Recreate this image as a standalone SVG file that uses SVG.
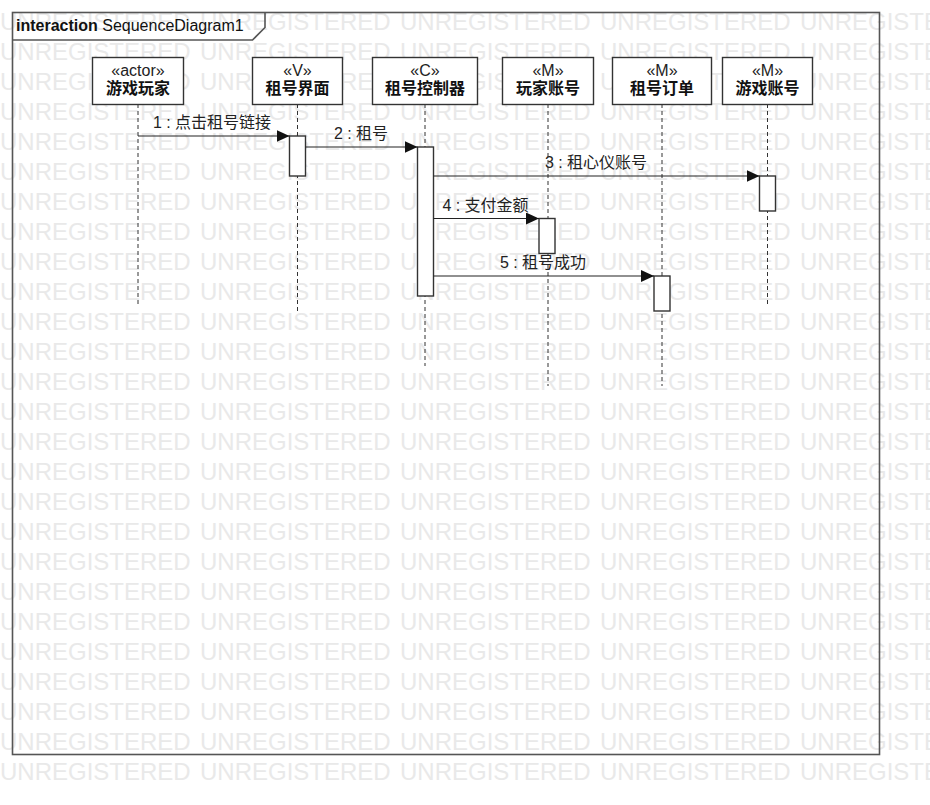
<svg xmlns="http://www.w3.org/2000/svg" xmlns:xlink="http://www.w3.org/1999/xlink" width="930" height="805" viewBox="0 0 930 805">
<style>
text{font-family:"Liberation Sans","Noto Sans CJK SC",sans-serif;}
.wm{font-size:24px;fill:#e9e9e9;}
.frame{fill:none;stroke:#555;stroke-width:1.6;}
.box{fill:#fff;stroke:#333;stroke-width:1.4;}
.st{font-size:16px;fill:#222;text-anchor:middle;}
.nm{font-size:16px;font-weight:bold;fill:#111;text-anchor:middle;}
.life{stroke:#333;stroke-width:1;stroke-dasharray:4 3;fill:none;}
.act{fill:#fff;stroke:#333;stroke-width:1.4;}
.msg{stroke:#222;stroke-width:1.2;fill:none;marker-end:url(#ah);}
.lbl{font-size:16px;fill:#222;text-anchor:middle;}
.title{font-size:16px;fill:#111;}
</style>
<defs>
<marker id="ah" viewBox="0 0 13 12" refX="13" refY="6" markerWidth="13" markerHeight="12" markerUnits="userSpaceOnUse" orient="auto">
<path d="M0,0 L13,6 L0,12 Z" fill="#111"/>
</marker>
<g id="wmrow">
<text class="wm" x="0" y="0">UNREGISTERED</text>
<text class="wm" x="200" y="0">UNREGISTERED</text>
<text class="wm" x="400" y="0">UNREGISTERED</text>
<text class="wm" x="600" y="0">UNREGISTERED</text>
<text class="wm" x="800" y="0">UNREGISTERED</text>
</g>
</defs>
<rect width="930" height="805" fill="#fff"/>
<g id="watermark">
<use xlink:href="#wmrow" y="30"/><use xlink:href="#wmrow" y="60"/><use xlink:href="#wmrow" y="90"/><use xlink:href="#wmrow" y="120"/><use xlink:href="#wmrow" y="150"/><use xlink:href="#wmrow" y="180"/><use xlink:href="#wmrow" y="210"/><use xlink:href="#wmrow" y="240"/><use xlink:href="#wmrow" y="270"/><use xlink:href="#wmrow" y="300"/><use xlink:href="#wmrow" y="330"/><use xlink:href="#wmrow" y="360"/><use xlink:href="#wmrow" y="390"/><use xlink:href="#wmrow" y="420"/><use xlink:href="#wmrow" y="450"/><use xlink:href="#wmrow" y="480"/><use xlink:href="#wmrow" y="510"/><use xlink:href="#wmrow" y="540"/><use xlink:href="#wmrow" y="570"/><use xlink:href="#wmrow" y="600"/><use xlink:href="#wmrow" y="630"/><use xlink:href="#wmrow" y="660"/><use xlink:href="#wmrow" y="690"/><use xlink:href="#wmrow" y="720"/><use xlink:href="#wmrow" y="750"/><use xlink:href="#wmrow" y="780"/>
</g>
<g id="frame">
<rect class="frame" x="12.5" y="12.5" width="867" height="742"/>
<path class="frame" d="M12.5,40 H252.5 L265,27.5 V12.5"/>
<text class="title" x="16" y="31"><tspan font-weight="bold">interaction</tspan> SequenceDiagram1</text>
</g>
<g id="lifelines">
<line class="life" x1="138" y1="104" x2="138" y2="305"/>
<line class="life" x1="297.5" y1="104" x2="297.5" y2="313"/>
<line class="life" x1="425" y1="104" x2="425" y2="366"/>
<line class="life" x1="548" y1="104" x2="548" y2="386"/>
<line class="life" x1="662" y1="104" x2="662" y2="386"/>
<line class="life" x1="767.5" y1="104" x2="767.5" y2="305"/>
</g>
<g id="n1"><rect class="box" x="92.5" y="57.5" width="91" height="47"/><text class="st" x="138" y="75.5">«actor»</text><text class="nm" x="138" y="93.5">游戏玩家</text></g>
<g id="n2"><rect class="box" x="252.5" y="57.5" width="90" height="47"/><text class="st" x="297.5" y="75.5">«V»</text><text class="nm" x="297.5" y="93.5">租号界面</text></g>
<g id="n3"><rect class="box" x="372.5" y="57.5" width="105" height="47"/><text class="st" x="425" y="75.5">«C»</text><text class="nm" x="425" y="93.5">租号控制器</text></g>
<g id="n4"><rect class="box" x="502.5" y="57.5" width="91" height="47"/><text class="st" x="548" y="75.5">«M»</text><text class="nm" x="548" y="93.5">玩家账号</text></g>
<g id="n5"><rect class="box" x="612.5" y="57.5" width="99" height="47"/><text class="st" x="662" y="75.5">«M»</text><text class="nm" x="662" y="93.5">租号订单</text></g>
<g id="n6"><rect class="box" x="722.5" y="57.5" width="90" height="47"/><text class="st" x="767.5" y="75.5">«M»</text><text class="nm" x="767.5" y="93.5">游戏账号</text></g>
<g id="activations">
<rect class="act" x="289.5" y="136" width="16" height="40"/>
<rect class="act" x="417.5" y="147" width="16" height="149"/>
<rect class="act" x="759.5" y="176" width="16" height="35"/>
<rect class="act" x="539" y="218.5" width="16" height="35"/>
<rect class="act" x="654" y="276" width="16" height="35"/>
</g>
<g id="connectors">
<line class="msg" x1="138" y1="136" x2="289.5" y2="136"/>
<text class="lbl" x="212" y="128">1 : 点击租号链接</text>
<line class="msg" x1="305.5" y1="147" x2="417.5" y2="147"/>
<text class="lbl" x="361" y="139">2 : 租号</text>
<line class="msg" x1="433.5" y1="176" x2="759.5" y2="176"/>
<text class="lbl" x="596" y="168">3 : 租心仪账号</text>
<line class="msg" x1="433.5" y1="218.5" x2="539" y2="218.5"/>
<text class="lbl" x="485.5" y="210.5">4 : 支付金额</text>
<line class="msg" x1="433.5" y1="276" x2="654" y2="276"/>
<text class="lbl" x="543" y="268">5 : 租号成功</text>
</g>
</svg>
